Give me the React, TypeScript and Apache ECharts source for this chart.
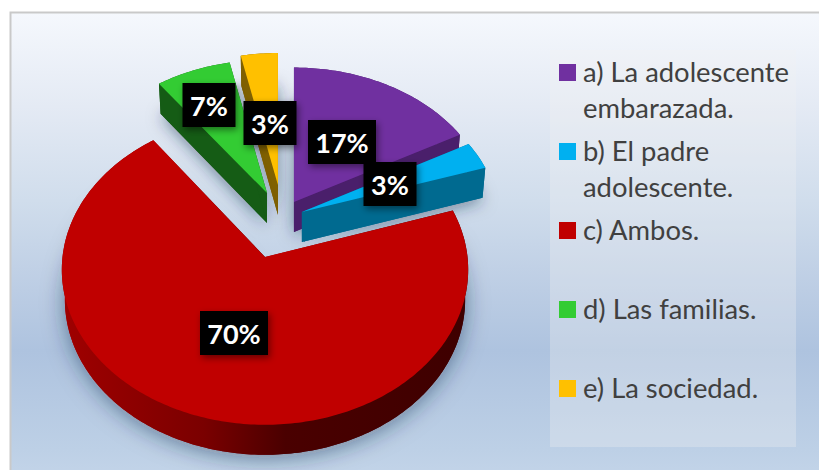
import React, { useEffect, useRef } from "react";
import * as echarts from "echarts";

const categories = [
  "a) La adolescente\nembarazada.",
  "b) El padre\nadolescente.",
  "c) Ambos.",
  "d) Las familias.",
  "e) La sociedad.",
];
const shares = [17, 3, 70, 6.7, 3.3];
const topColors = ["#7030A0", "#00B0F0", "#C00000", "#33CC33", "#FFC000"];
const wallColors = ["#4A1F6B", "#006A90", "#7A0000", "#155C15", "#7F6000"];

// Exploded offset of each slice in pie-plane units (x to the right, y to the back)
const pulls = [
  [0.143, 0.368],
  [0.182, 0.299],
  [0, 0],
  [0.01, 0.43],
  [0.064, 0.486],
];
const labelCentres = [
  [342, 142],
  [390, 184],
  [234, 333],
  [209, 105],
  [270, 123],
];
const paintOrder = [4, 3, 0, 1, 2];

const CX = 265;
const CY = 257;
const RX = 202.5;
const RY = 154;
const PERSP = 0.082;
const DEPTH = 30;

// px, py: pull of the slice; u, v: position on the unit disc relative to the slice's apex
const project = (px: number, py: number, u: number, v: number, z: number) => {
  const Y = py + v;
  const s = 1 / (1 + PERSP * Y);
  const k = 1 - 0.015 * z;
  return [CX + RX * px + RX * u * s * k, CY - RY * Y * s + z * DEPTH];
};

const sliceAngles = () => {
  const total = shares.reduce((a, b) => a + b, 0);
  let run = 0;
  return shares.map((v) => {
    const a0 = (run / total) * Math.PI * 2;
    run += v;
    return [a0, (run / total) * Math.PI * 2];
  });
};

const arcPoints = (i: number, z: number) => {
  const [a0, a1] = sliceAngles()[i];
  const [px, py] = pulls[i];
  const n = Math.max(12, Math.ceil((a1 - a0) * 60));
  const out: number[][] = [];
  for (let k = 0; k <= n; k++) {
    const a = a0 + ((a1 - a0) * k) / n;
    out.push(project(px, py, Math.sin(a), Math.cos(a), z));
  }
  return out;
};

const renderSlice = (_: any, api: any) => {
  const i = paintOrder[api.value(0)];
  const [px, py] = pulls[i];
  const topArc = arcPoints(i, 0);
  const botArc = arcPoints(i, 1);
  const apexTop = project(px, py, 0, 0, 0);
  const apexBot = project(px, py, 0, 0, 1);
  const wallFill =
    i === 2
      ? new echarts.graphic.LinearGradient(0, 0, 1, 0, [
          { offset: 0, color: "#A00000" },
          { offset: 0.35, color: "#7A0000" },
          { offset: 0.55, color: "#4A0000" },
          { offset: 1, color: "#3E0000" },
        ])
      : wallColors[i];
  const poly = (points: number[][], fill: any, extra: any = {}) => ({
    type: "polygon",
    shape: { points },
    style: { fill, lineWidth: 0, ...extra },
  });
  const shadow = { shadowBlur: i === 2 ? 22 : 16, shadowColor: "rgba(20,40,70,0.5)", shadowOffsetY: 3 };
  return {
    type: "group",
    children: [
      poly([apexBot, ...botArc], wallFill, shadow),
      poly([...topArc, ...botArc.slice().reverse()], wallFill),
      poly([apexTop, topArc[0], botArc[0], apexBot], wallFill),
      poly([apexTop, topArc[topArc.length - 1], botArc[botArc.length - 1], apexBot], wallFill),
      poly([apexTop, ...topArc], topColors[i]),
    ],
  };
};

const renderLabel = (_: any, api: any) => {
  const i = api.value(0);
  const [cx, cy] = labelCentres[i];
  const text = `${Math.round(shares[i])}%`;
  const w = text.length === 3 ? 68 : 53;
  return {
    type: "group",
    children: [
      {
        type: "rect",
        shape: { x: cx - w / 2, y: cy - 22, width: w, height: 44 },
        style: { fill: "#000", shadowBlur: 7, shadowColor: "rgba(0,0,0,0.45)", shadowOffsetX: 2, shadowOffsetY: 3 },
      },
      {
        type: "text",
        x: cx,
        y: cy,
        style: {
          text,
          fill: "#fff",
          font: 'bold 27px Lato, "Noto Sans", sans-serif',
          align: "center",
          verticalAlign: "middle",
        },
      },
    ],
  };
};

const LEGEND_X = 559;
const LEGEND_Y = 64;
const LEGEND_STEP = 79;

const legendElements = categories.flatMap((name, i) => [
  {
    type: "rect",
    z: 1,
    shape: { x: LEGEND_X, y: LEGEND_Y + i * LEGEND_STEP, width: 17, height: 17 },
    style: { fill: topColors[i] },
  },
  {
    type: "text",
    z: 1,
    x: LEGEND_X + 24,
    y: LEGEND_Y - 11 + i * LEGEND_STEP,
    style: {
      text: name,
      fill: "#404040",
      font: '27.4px Lato, "Noto Sans", sans-serif',
      lineHeight: 36,
      align: "left",
      verticalAlign: "top",
    },
  },
]);

export default function App() {
  const ref = useRef<HTMLDivElement>(null);
  useEffect(() => {
    document.body.style.margin = "0";
    const chart = echarts.init(ref.current!, null, { renderer: "svg" });
    chart.setOption({
      animation: false,
      backgroundColor: "#ffffff",
      graphic: [
        {
          type: "rect",
          z: -2,
          shape: { x: 10.5, y: 12.5, width: 820, height: 470 },
          style: {
            stroke: "#C9C9C9",
            lineWidth: 2,
            fill: new echarts.graphic.LinearGradient(0, 0, 0, 1, [
              { offset: 0, color: "#F5F8FD" },
              { offset: 0.2, color: "#E4EAF4" },
              { offset: 0.4, color: "#D0DDEC" },
              { offset: 0.59, color: "#BCCDE4" },
              { offset: 0.72, color: "#AEC3DF" },
              { offset: 0.93, color: "#BDD0E6" },
              { offset: 1, color: "#C4D5E9" },
            ]),
          },
        },
        {
          type: "rect",
          z: -1,
          shape: { x: 550, y: 50, width: 246, height: 397 },
          style: { fill: "rgba(242,242,242,0.3)" },
        },
        ...legendElements,
      ],
      series: [
        {
          type: "custom",
          coordinateSystem: "none",
          silent: true,
          z: 2,
          data: paintOrder.map((_, k) => [k]),
          renderItem: renderSlice,
        },
        {
          type: "custom",
          coordinateSystem: "none",
          silent: true,
          z: 5,
          data: shares.map((_, k) => [k]),
          renderItem: renderLabel,
        },
      ],
    });
    return () => chart.dispose();
  }, []);
  return <div ref={ref} style={{ width: 819, height: 470 }} />;
}
